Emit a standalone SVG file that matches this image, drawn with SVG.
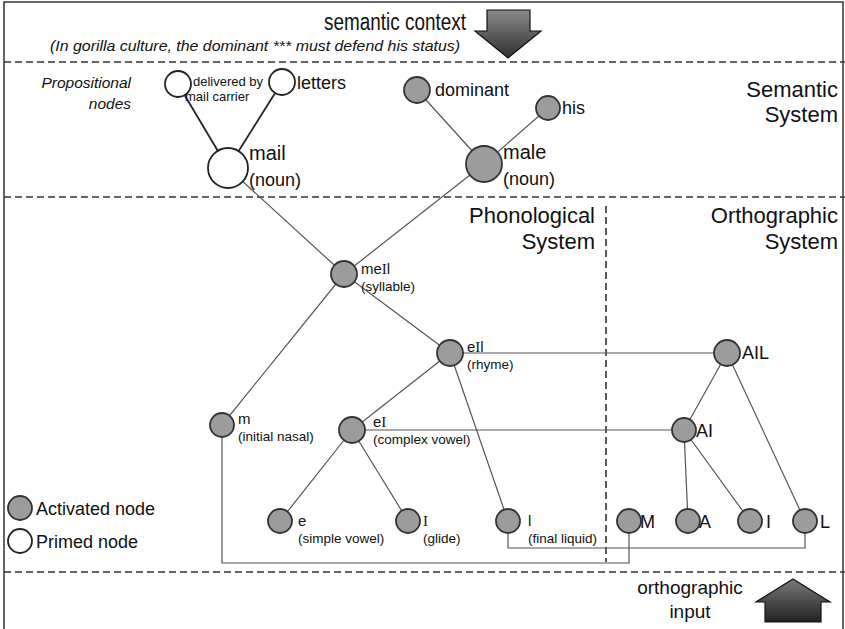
<svg xmlns="http://www.w3.org/2000/svg" width="845" height="629" viewBox="0 0 845 629">
<defs>
<linearGradient id="gDown" x1="0" y1="0" x2="0" y2="1"><stop offset="0" stop-color="#8a8a8a"/><stop offset="1" stop-color="#2e2e2e"/></linearGradient>
<linearGradient id="gUp" x1="0" y1="0" x2="0" y2="1"><stop offset="0" stop-color="#7a7a7a"/><stop offset="1" stop-color="#222"/></linearGradient>
<style>
text{font-family:"Liberation Sans",Arial,sans-serif;fill:#111}
.act{fill:#9c9c9c;stroke:#333;stroke-width:1.8}
.pri{fill:#fff;stroke:#222;stroke-width:1.8}
.ln{stroke:#555;stroke-width:1.2;fill:none}
.lk{stroke:#222;stroke-width:1.8;fill:none}
.dash{stroke:#333;stroke-width:1.6;stroke-dasharray:7 4;fill:none}
.sys{font-size:22px;text-anchor:end}
.sm{font-size:13.5px}
.ph{font-size:15px}
.md{font-size:18px}
.big{font-size:20px}
.ser{font-family:"Liberation Serif","Times New Roman",serif}
</style>
</defs>
<rect x="4" y="2" width="839" height="640" fill="#fff" stroke="#333" stroke-width="1.5"/>
<g id="separators">
<line class="dash" x1="4" y1="62" x2="845" y2="62"/>
<line class="dash" x1="4" y1="197" x2="845" y2="197"/>
<line class="dash" x1="4" y1="572" x2="845" y2="572"/>
<line class="dash" x1="606" y1="206" x2="606" y2="562"/>
</g>
<g id="context">
<text x="395" y="30" font-size="23" text-anchor="middle" textLength="142" lengthAdjust="spacingAndGlyphs">semantic context</text>
<text x="50" y="51" font-size="15" font-style="italic" textLength="410" lengthAdjust="spacingAndGlyphs">(In gorilla culture, the dominant *** must defend his status)</text>
<path d="M487,10 H530 V31 H541 L508,58 L475,31 H487 Z" fill="url(#gDown)" stroke="#111" stroke-width="1.2"/>
<text x="690" y="594" font-size="19" text-anchor="middle">orthographic</text>
<text x="690" y="618" font-size="19" text-anchor="middle">input</text>
<path d="M765,622 V602 H756 L793,579 L830,602 H821 V622 Z" fill="url(#gUp)" stroke="#111" stroke-width="1.2"/>
</g>
<g id="labels">
<text x="131" y="88" font-size="15.5" font-style="italic" text-anchor="end">Propositional</text>
<text x="131" y="109" font-size="15.5" font-style="italic" text-anchor="end">nodes</text>
<text class="sys" x="838" y="97">Semantic</text>
<text class="sys" x="838" y="122">System</text>
<text class="sys" x="595" y="223">Phonological</text>
<text class="sys" x="595" y="249">System</text>
<text class="sys" x="838" y="223">Orthographic</text>
<text class="sys" x="838" y="249">System</text>
</g>
<g id="connectors">
<line class="lk" x1="178" y1="84" x2="228" y2="168"/>
<line class="lk" x1="282" y1="82" x2="228" y2="168"/>
<line class="ln" x1="417" y1="90" x2="484" y2="164"/>
<line class="ln" x1="548" y1="108" x2="484" y2="164"/>
<line class="ln" x1="228" y1="168" x2="344" y2="274"/>
<line class="ln" x1="484" y1="164" x2="344" y2="274"/>
<line class="ln" x1="344" y1="274" x2="222" y2="425"/>
<line class="ln" x1="344" y1="274" x2="450" y2="353"/>
<line class="ln" x1="450" y1="353" x2="352" y2="430"/>
<line class="ln" x1="450" y1="353" x2="508" y2="521"/>
<line class="ln" x1="450" y1="353" x2="727" y2="353"/>
<line class="ln" x1="352" y1="430" x2="684" y2="430"/>
<line class="ln" x1="352" y1="430" x2="280" y2="521"/>
<line class="ln" x1="352" y1="430" x2="408" y2="521"/>
<line class="ln" x1="727" y1="353" x2="684" y2="430"/>
<line class="ln" x1="727" y1="353" x2="805" y2="521"/>
<line class="ln" x1="684" y1="430" x2="688" y2="521"/>
<line class="ln" x1="684" y1="430" x2="750" y2="521"/>
<polyline class="ln" points="222,425 222,563 629,563 629,521"/>
<polyline class="ln" points="508,521 508,548 805,548 805,521"/>
</g>
<g id="n-delivered"><circle class="pri" cx="178" cy="84" r="13"/><text x="193" y="86" font-size="13">delivered by</text><text x="185" y="101" font-size="13">mail carrier</text></g>
<g id="n-letters"><circle class="pri" cx="282" cy="82" r="13"/><text class="md" x="297" y="89">letters</text></g>
<g id="n-mail"><circle class="pri" cx="228" cy="168" r="20"/><text class="big" x="249" y="160">mail</text><text class="md" x="249" y="186">(noun)</text></g>
<g id="n-dominant"><circle class="act" cx="417" cy="90" r="13"/><text class="md" x="435" y="96">dominant</text></g>
<g id="n-his"><circle class="act" cx="548" cy="108" r="12"/><text class="md" x="562" y="114">his</text></g>
<g id="n-male"><circle class="act" cx="484" cy="164" r="18"/><text class="big" x="503" y="159">male</text><text class="md" x="503" y="185">(noun)</text></g>
<g id="n-meIl"><circle class="act" cx="344" cy="274" r="13"/><text class="ph" x="361" y="274">me<tspan class="ser">I</tspan>l</text><text class="sm" x="361" y="291">(syllable)</text></g>
<g id="n-eIl"><circle class="act" cx="450" cy="353" r="13"/><text class="ph" x="467" y="352">e<tspan class="ser">I</tspan>l</text><text class="sm" x="467" y="369">(rhyme)</text></g>
<g id="n-m"><circle class="act" cx="222" cy="425" r="12"/><text class="ph" x="238" y="424">m</text><text class="sm" x="238" y="441">(initial nasal)</text></g>
<g id="n-eI"><circle class="act" cx="352" cy="430" r="13"/><text class="ph" x="373" y="427">e<tspan class="ser">I</tspan></text><text class="sm" x="373" y="444">(complex vowel)</text></g>
<g id="n-e"><circle class="act" cx="280" cy="521" r="12"/><text class="ph" x="298" y="526">e</text><text class="sm" x="298" y="543">(simple vowel)</text></g>
<g id="n-glide"><circle class="act" cx="408" cy="521" r="12"/><text class="ph ser" x="423" y="526">I</text><text class="sm" x="423" y="543">(glide)</text></g>
<g id="n-liquid"><circle class="act" cx="508" cy="521" r="12"/><text class="ph" x="528" y="526">l</text><text class="sm" x="528" y="543">(final liquid)</text></g>
<g id="n-M"><circle class="act" cx="629" cy="521" r="12"/><text class="md" x="640" y="528">M</text></g>
<g id="n-A"><circle class="act" cx="688" cy="521" r="12"/><text class="md" x="699" y="528">A</text></g>
<g id="n-I"><circle class="act" cx="750" cy="521" r="12"/><text class="md" x="766" y="528">I</text></g>
<g id="n-L"><circle class="act" cx="805" cy="521" r="12"/><text class="md" x="820" y="528">L</text></g>
<g id="n-AIL"><circle class="act" cx="727" cy="353" r="13"/><text class="md" x="742" y="359">AIL</text></g>
<g id="n-AI"><circle class="act" cx="684" cy="430" r="12"/><text class="md" x="696" y="437">AI</text></g>
<g id="legend">
<circle class="act" cx="20" cy="508" r="12"/><text class="md" x="36" y="515">Activated node</text>
<circle class="pri" cx="20" cy="541" r="12"/><text class="md" x="36" y="548">Primed node</text>
</g>
</svg>
